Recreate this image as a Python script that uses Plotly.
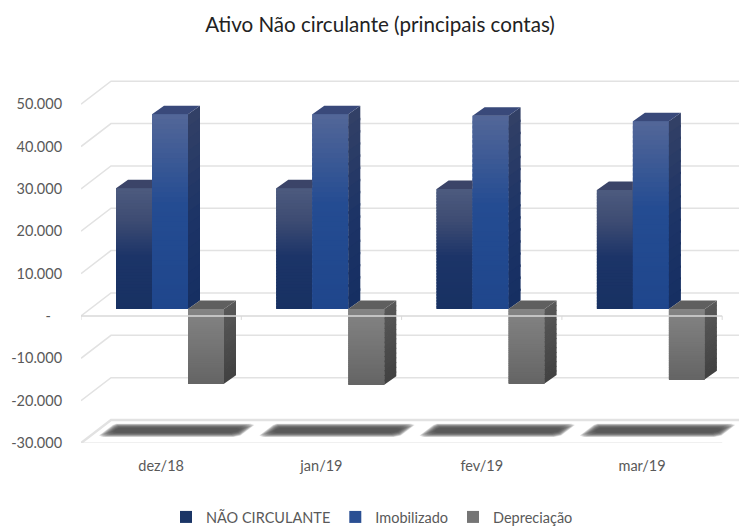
import plotly.graph_objects as go

# ---- data ----
categories = ["dez/18", "jan/19", "fev/19", "mar/19"]
nao_circulante = [28500, 28500, 28300, 28100]
imobilizado = [45950, 46000, 45600, 44300]
depreciacao = [-17650, -17900, -17600, -16600]
y_ticks = [50000, 40000, 30000, 20000, 10000, 0, -10000, -20000, -30000]
y_tick_labels = ["50.000", "40.000", "30.000", "20.000", "10.000", "-\u00a0\u00a0\u00a0", "-10.000", "-20.000", "-30.000"]
series_names = ["NÃO CIRCULANTE", "Imobilizado", "Depreciação"]

# ---- geometry of the fake 3D box, in pixels (page has an 8px body margin) ----
PAGE = 8
W, H = 747 - PAGE, 526 - PAGE
L, R, T, B = 81 - PAGE, 0, 70 - PAGE, 83
CAT_PX = 160.3
VAL_PX = 42.35 / 10000
PLOT_H = H - T - B
DEPTH_X, DEPTH_Y = 30, 23          # box depth
BAR_DX, BAR_DY = 9, 7              # bar front plane behind axis plane
BAR_W = 36                         # bar width
SKEW_X, SKEW_Y = 12, 8.5           # bar depth
START = 35 - BAR_DX                # first bar left edge from category start


def px_x(p):
    return p / CAT_PX


def px_y(p):
    return p / VAL_PX


def lerp(stops, t):
    for (t0, c0), (t1, c1) in zip(stops, stops[1:]):
        if t <= t1:
            f = (t - t0) / (t1 - t0)
            return "rgb(%d,%d,%d)" % tuple(round(a + (b - a) * f) for a, b in zip(c0, c1))
    return "rgb(%d,%d,%d)" % stops[-1][1]


values = [nao_circulante, imobilizado, depreciacao]
main_color = ["#1b3566", "#2a4f93", "#757575"]
front = [
    [(0, (76, 90, 126)), (0.25, (62, 76, 115)), (0.55, (28, 52, 104)), (1, (23, 49, 98))],
    [(0, (82, 102, 152)), (0.45, (36, 76, 146)), (1, (31, 70, 140))],
    [(0, (132, 132, 132)), (1, (100, 100, 100))],
]
side = [
    None,
    [(0, (50, 64, 102)), (0.5, (29, 52, 102)), (1, (21, 46, 98))],
    [(0, (88, 88, 88)), (1, (64, 64, 64))],
]
top_color = ["#3b4468", "#39497a", "#5f5f5f"]

base_val = px_y(BAR_DY)
N_FRONT, N_SIDE = 40, 16
fig = go.Figure()


def bar_left(i, s):
    return i + px_x(BAR_DX + START + s * BAR_W)


# floor shadows, soft edges from stacked translucent layers
N_SHADOW = 12
for layer in range(N_SHADOW):
    f = layer / (N_SHADOW - 1)
    xs, ys = [], []
    hw = 69 - 9 * f
    hh = 6.6 - 4.2 * f
    for i in range(len(categories)):
        cx = i + 0.5 + px_x(15.5)
        cy = -30000 + px_y(12.7)
        sk = hh * DEPTH_X / DEPTH_Y
        c = 3.5
        pts = [(-hw + sk, hh), (hw + sk - c, hh), (hw + sk, hh - c * .4), (hw - sk + c, -hh + c * .4),
               (hw - sk - c, -hh), (-hw - sk + c, -hh), (-hw - sk, -hh + c * .4), (-hw + sk - c, hh - c * .4)]
        for p, q in pts + pts[:1]:
            xs.append(cx + px_x(p))
            ys.append(cy + px_y(q))
        xs.append(None)
        ys.append(None)
    fig.add_trace(go.Scatter(x=xs, y=ys, mode="lines", fill="toself", line=dict(width=0),
                             fillcolor="rgba(70,70,70,0.17)", showlegend=False, hoverinfo="skip"))

# bars: solid value bars, with gradient slices laid on top
for s, name in enumerate(series_names):
    xc = [bar_left(i, s) + px_x(BAR_W / 2) for i in range(len(categories))]
    fig.add_trace(go.Bar(x=xc, y=values[s], base=[base_val] * len(xc), width=px_x(BAR_W), name=name,
                         marker=dict(color=main_color[s], line=dict(width=0)), hoverinfo="skip"))
    bx, by, bb, bc = [], [], [], []
    for i, v in enumerate(values[s]):
        for k in range(N_FRONT):
            t = k / N_FRONT
            far = v * (1 - t) if v > 0 else v * t
            near = v * (1 - min((k + 1.6) / N_FRONT, 1)) if v > 0 else v * min((k + 1.6) / N_FRONT, 1)
            bx.append(xc[i])
            bb.append(base_val + near)
            by.append(far - near)
            bc.append(lerp(front[s], t))
    fig.add_trace(go.Bar(x=bx, y=by, base=bb, width=px_x(BAR_W), showlegend=False, hoverinfo="skip",
                         marker=dict(color=bc, line=dict(width=0))))

fig.update_layout(barmode="overlay")

# side and top faces, in paint order
for s in range(3):
    if side[s] is not None:
        for k in range(N_SIDE):
            xs, ys = [], []
            for i, v in enumerate(values[s]):
                x0 = bar_left(i, s) + px_x(BAR_W)
                x1 = x0 + px_x(SKEW_X)
                if v > 0:
                    a = base_val + v * (1 - k / N_SIDE)
                    b = base_val + v * (1 - min((k + 1.2) / N_SIDE, 1))
                else:
                    a = base_val + v * (k / N_SIDE)
                    b = base_val + v * min((k + 1.2) / N_SIDE, 1)
                dy = px_y(SKEW_Y)
                xs += [x0, x1, x1, x0, x0, None]
                ys += [a, a + dy, b + dy, b, a, None]
            fig.add_trace(go.Scatter(x=xs, y=ys, mode="lines", fill="toself", line=dict(width=0),
                                     fillcolor=lerp(side[s], k / N_SIDE), showlegend=False, hoverinfo="skip"))
    xs, ys = [], []
    for i, v in enumerate(values[s]):
        x0 = bar_left(i, s)
        x1 = x0 + px_x(BAR_W)
        top = base_val + max(v, 0)
        dy = px_y(SKEW_Y)
        dx = px_x(SKEW_X)
        if s == 0:  # hidden on its right by the next bar
            xs += [x0, x0 + dx, x1, x1, x0, None]
            ys += [top, top + dy, top + dy, top, top, None]
        else:
            xs += [x0, x0 + dx, x1 + dx, x1, x0, None]
            ys += [top, top + dy, top + dy, top, top, None]
    fig.add_trace(go.Scatter(x=xs, y=ys, mode="lines", fill="toself", line=dict(width=0),
                             fillcolor=top_color[s], showlegend=False, hoverinfo="skip"))

# grid lines of the box
shapes = []
x_max = (W - L) / CAT_PX
dx = px_x(DEPTH_X)
dy = px_y(DEPTH_Y)
for v in y_ticks:
    w = 2.5 if v == -30000 else 1.5
    shapes.append(dict(type="path", layer="below", xref="x", yref="y",
                       path=f"M 0 {v} L {dx} {v + dy} L {x_max} {v + dy}",
                       line=dict(color="#e2e2e2", width=w)))
n = len(categories)
shapes.append(dict(type="line", layer="above", xref="x", yref="y", x0=0, x1=n, y0=0, y1=0,
                   line=dict(color="#d9d9d9", width=1.5)))
shapes.append(dict(type="line", layer="below", xref="x", yref="y", x0=0, x1=n, y0=-30000, y1=-30000,
                   line=dict(color="#e2e2e2", width=1.2)))
for i in range(n + 1):
    shapes.append(dict(type="line", layer="above", xref="x", yref="y", x0=i, x1=i, y0=0, y1=-px_y(4),
                       line=dict(color="#d9d9d9", width=1)))

font = "Lato"
fig.update_layout(
    width=W, height=H, autosize=False,
    margin=dict(l=L, r=R, t=T, b=B, pad=0, autoexpand=False),
    paper_bgcolor="white", plot_bgcolor="white",
    font=dict(family=font, size=14.5, color="#595959"),
    title=dict(text="Ativo Não circulante (principais contas)", x=(380 - PAGE) / W, xanchor="center",
               y=1 - (25 - PAGE) / H, yanchor="middle", font=dict(family=font, size=20.6, color="#222222")),
    shapes=shapes,
    showlegend=True,
    legend=dict(orientation="h", x=(166 - 81) / (W - L), xanchor="left", y=-(501 - PAGE - (H - B)) / PLOT_H,
                yanchor="top", font=dict(size=14.5, color="#595959"), traceorder="normal",
                bgcolor="rgba(0,0,0,0)"),
    xaxis=dict(range=[0, x_max], tickvals=[i + 0.5 for i in range(n)], ticktext=categories, showgrid=False,
               zeroline=False, showline=False, ticks="outside", ticklen=10, tickcolor="rgba(0,0,0,0)", fixedrange=True),
    yaxis=dict(range=[-30000, -30000 + PLOT_H / VAL_PX], tickvals=y_ticks, ticktext=y_tick_labels, showgrid=False,
               zeroline=False, showline=False, ticks="outside", ticklen=15, tickcolor="rgba(0,0,0,0)", fixedrange=True),
)

fig.write_html("out.html")
